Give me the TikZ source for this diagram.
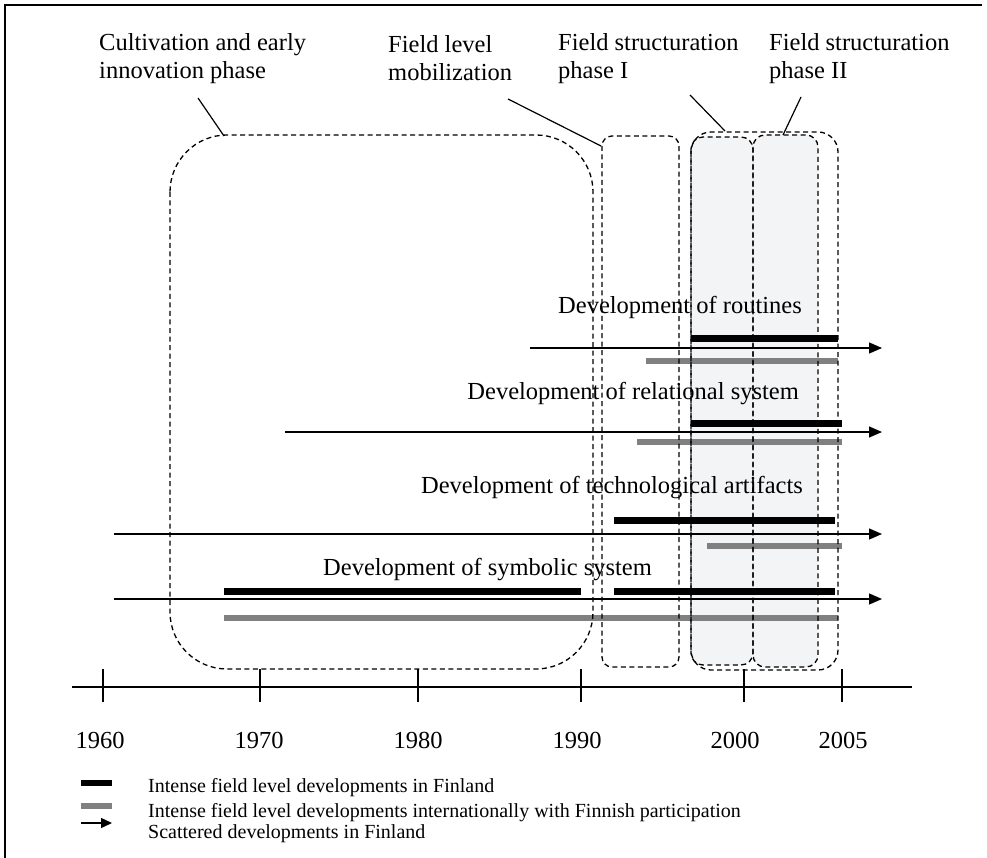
\documentclass[tikz,border=0pt]{standalone}
\usepackage{fontspec}
\setmainfont{Liberation Serif}
\usetikzlibrary{arrows.meta}
\definecolor{barGray}{RGB}{128,128,128}
\definecolor{phaseFill}{RGB}{243,244,246}
\begin{document}
\begin{tikzpicture}[x=1pt,y=-1pt,
  frameline/.style={draw, line width=1.5pt},
  phasebox/.style={draw, line width=1.3pt, dash pattern=on 5pt off 3.5pt},
  shade/.style={fill=phaseFill},
  leader/.style={draw, line width=1.2pt},
  scatter/.style={draw, line width=1.3pt, -{Triangle[length=13pt,width=11pt]}},
  finbar/.style={draw, black, line width=7pt},
  intbar/.style={draw, barGray, line width=6.5pt},
  axisline/.style={draw, line width=1.5pt},
  tickmark/.style={draw, line width=1.5pt},
  phaselabel/.style={font=\fontsize{24.5}{28}\selectfont, inner sep=0pt, align=left, anchor=north west},
  rowlabel/.style={font=\fontsize{24.5}{28}\selectfont, inner sep=0pt},
  yearlabel/.style={font=\fontsize{24.5}{28}\selectfont, inner sep=0pt, anchor=base},
  legendtext/.style={font=\fontsize{20}{24}\selectfont, inner sep=0pt, anchor=base west},
  legfin/.style={draw, black, line width=5.5pt},
  legint/.style={draw, barGray, line width=5.5pt},
  legscatter/.style={draw, line width=1.3pt, -{Triangle[length=11pt,width=10pt]}}
]
\useasboundingbox (0,0) rectangle (987,858);

% outer frame (top and left edges)
\draw[frameline] (5,858) -- (5,5) -- (982,5);

% shaded structuration phases
\path[shade, rounded corners=12] (691,137) rectangle (753,665);
\path[shade, rounded corners=12] (753,135) rectangle (818,667);

% phase labels
\node[phaselabel] (cult) at (99,33) {Cultivation and early\\innovation phase};
\node[phaselabel] (mob)  at (388,35) {Field level\\mobilization};
\node[phaselabel] (fs1)  at (558,33) {Field structuration\\phase I};
\node[phaselabel] (fs2)  at (769,33) {Field structuration\\phase II};

% leader line end points
\coordinate (cultFoot) at (198,98);  \coordinate (cultTip) at (224,136);
\coordinate (mobFoot)  at (508,99);  \coordinate (mobTip)  at (601,146);
\coordinate (fs1Foot)  at (690,95);  \coordinate (fs1Tip)  at (725,131);
\coordinate (fs2Foot)  at (801,97);  \coordinate (fs2Tip)  at (783,135);
\draw[leader] (cultFoot) -- (cultTip);
\draw[leader] (mobFoot) -- (mobTip);
\draw[leader] (fs1Foot) -- (fs1Tip);
\draw[leader] (fs2Foot) -- (fs2Tip);

% row: routines
\node[rowlabel, anchor=base east] (routines) at (802,313) {Development of routines};
\coordinate (r1s) at (530,348); \coordinate (r1e) at (882,348);
\draw[finbar] (691,338) -- (838,338);
\draw[scatter] (r1s) -- (r1e);
\draw[intbar] (646,361) -- (838,361);

% row: relational system
\node[rowlabel, anchor=base east] (relational) at (799,399) {Development of relational system};
\coordinate (r2s) at (285,432); \coordinate (r2e) at (882,432);
\draw[finbar] (691,423) -- (842,423);
\draw[scatter] (r2s) -- (r2e);
\draw[intbar] (637,442) -- (842,442);

% row: technological artifacts
\node[rowlabel, anchor=base east] (techno) at (803,493) {Development of technological artifacts};
\coordinate (r3s) at (114,534); \coordinate (r3e) at (882,534);
\draw[finbar] (614,520) -- (835,520);
\draw[scatter] (r3s) -- (r3e);
\draw[intbar] (707,546) -- (842,546);

% row: symbolic system
\node[rowlabel, anchor=base west] (symbolic) at (323,575) {Development of symbolic system};
\coordinate (r4s) at (114,599); \coordinate (r4e) at (882,599);
\draw[finbar] (224,591) -- (581,591);
\draw[finbar] (614,591) -- (835,591);
\draw[scatter] (r4s) -- (r4e);
\draw[intbar] (224,618) -- (838,618);

% phase outlines
\draw[phasebox, rounded corners=57] (170,135) rectangle (593,669);
\draw[phasebox, rounded corners=10] (602,136) rectangle (679,667);
\draw[phasebox, rounded corners=12] (691,137) rectangle (753,665);
\draw[phasebox, rounded corners=12] (753,135) rectangle (818,667);
\draw[phasebox, rounded corners=20] (691,132) rectangle (838,670);

% time axis
\coordinate (axL) at (72,687); \coordinate (axR) at (912,687);
\draw[axisline] (axL) -- (axR);
\foreach \xx/\yr/\lx in {103/1960/100, 260/1970/259, 418/1980/418, 581/1990/577, 744/2000/735, 842/2005/843} {
  \draw[tickmark] (\xx,669) -- (\xx,702);
  \node[yearlabel] (y\yr) at (\lx,748) {\yr};
}

% legend
\coordinate (l1a) at (81,783); \coordinate (l1b) at (112,783);
\coordinate (l2a) at (81,806); \coordinate (l2b) at (112,806);
\coordinate (l3a) at (81,823); \coordinate (l3b) at (112,823);
\draw[legfin] (l1a) -- (l1b);
\draw[legint] (l2a) -- (l2b);
\draw[legscatter] (l3a) -- (l3b);
\node[legendtext] (leg1) at (148,792) {Intense field level developments in Finland};
\node[legendtext] (leg2) at (148,817) {Intense field level developments internationally with Finnish participation};
\node[legendtext] (leg3) at (148,838) {Scattered developments in Finland};
\end{tikzpicture}
\end{document}
